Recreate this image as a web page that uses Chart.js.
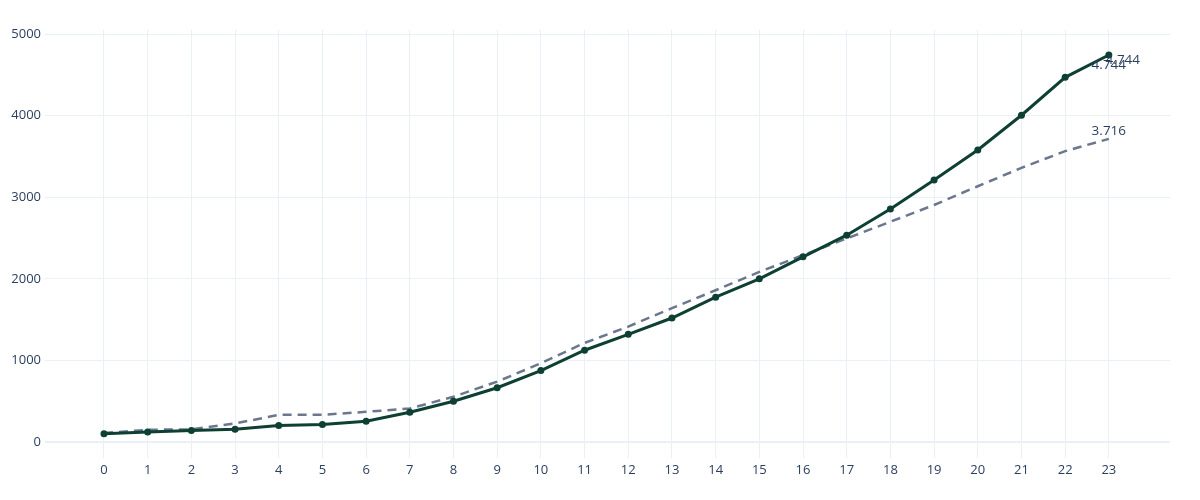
<!DOCTYPE html>
<html>
<head>
<meta charset="utf-8">
<script src="https://cdn.jsdelivr.net/npm/chart.js@4/dist/chart.umd.min.js"></script>
<style>
  body { margin: 0; background: #fff; }
  #wrap { width: 1200px; height: 500px; }
</style>
</head>
<body>
<div id="wrap"><canvas id="lineChart"></canvas></div>
<script>
// chart values
const hours = [0, 1, 2, 3, 4, 5, 6, 7, 8, 9, 10, 11, 12, 13, 14, 15, 16, 17, 18, 19, 20, 21, 22, 23];
const actual = [100, 122, 141, 157, 202, 214, 255, 365, 500, 665, 875, 1125, 1320, 1520, 1775, 2000, 2270, 2535, 2855, 3210, 3580, 4005, 4470, 4744];
const trend = [110, 150, 155, 227, 333, 333, 370, 410, 555, 740, 965, 1215, 1415, 1640, 1860, 2085, 2290, 2495, 2700, 2905, 3135, 3360, 3565, 3716];
const yTicks = [0, 1000, 2000, 3000, 4000, 5000];

// end labels, like the plotly annotations
const endLabels = [
  { text: '4.744', value: actual[actual.length - 1], dx: 0, dy: 10 },
  { text: '4.744', value: actual[actual.length - 1], dx: 14, dy: 5 },
  { text: '3.716', value: trend[trend.length - 1], dx: 0, dy: -8 }
];

const textColor = '#2a3f5f';
const gridColor = '#ebf0f8';

const endLabelPlugin = {
  id: 'endLabels',
  afterDatasetsDraw(chart) {
    const ctx = chart.ctx;
    const xs = chart.scales.x;
    const ys = chart.scales.y;
    const lastX = hours[hours.length - 1];
    ctx.save();
    ctx.font = '13.5px "Open Sans"';
    ctx.fillStyle = textColor;
    ctx.textAlign = 'center';
    ctx.textBaseline = 'middle';
    endLabels.forEach(l => {
      ctx.fillText(l.text, xs.getPixelForValue(lastX) + l.dx, ys.getPixelForValue(l.value) + l.dy);
    });
    ctx.restore();
  }
};

function toPoints(vals) {
  return vals.map((v, i) => ({ x: hours[i], y: v }));
}

const ctx = document.getElementById('lineChart').getContext('2d');

new Chart(ctx, {
  type: 'line',
  data: {
    datasets: [
      {
        label: 'trend',
        data: toPoints(trend),
        borderColor: '#6b778d',
        borderWidth: 2.5,
        borderDash: [9, 6],
        pointRadius: 0,
        fill: false,
        order: 2
      },
      {
        label: 'actual',
        data: toPoints(actual),
        borderColor: '#0d4032',
        backgroundColor: '#0d4032',
        borderWidth: 3,
        pointRadius: 3.5,
        pointBorderWidth: 0,
        fill: false,
        order: 1
      }
    ]
  },
  options: {
    responsive: true,
    maintainAspectRatio: false,
    animation: false,
    layout: { padding: { top: 30, right: 30, left: 0, bottom: 0 } },
    plugins: {
      legend: { display: false },
      tooltip: { enabled: false }
    },
    scales: {
      x: {
        type: 'linear',
        min: -1.35,
        max: 24.4,
        afterBuildTicks: axis => { axis.ticks = hours.map(h => ({ value: h })); },
        afterFit: axis => { axis.height = 42; },
        grid: { color: gridColor, lineWidth: 1, drawTicks: false },
        border: { display: false },
        ticks: {
          padding: 4,
          color: textColor,
          font: { family: 'Open Sans', size: 13 }
        }
      },
      y: {
        type: 'linear',
        min: -196,
        max: 5050,
        afterBuildTicks: axis => { axis.ticks = yTicks.map(v => ({ value: v })); },
        afterFit: axis => { axis.width = 45; },
        grid: {
          color: gridColor,
          lineWidth: c => (c.tick && c.tick.value === 0 ? 2 : 1),
          drawTicks: false
        },
        border: { display: false },
        ticks: {
          padding: 4,
          color: textColor,
          font: { family: 'Open Sans', size: 13 },
          callback: v => String(v)
        }
      }
    }
  },
  plugins: [endLabelPlugin]
});
</script>
</body>
</html>
